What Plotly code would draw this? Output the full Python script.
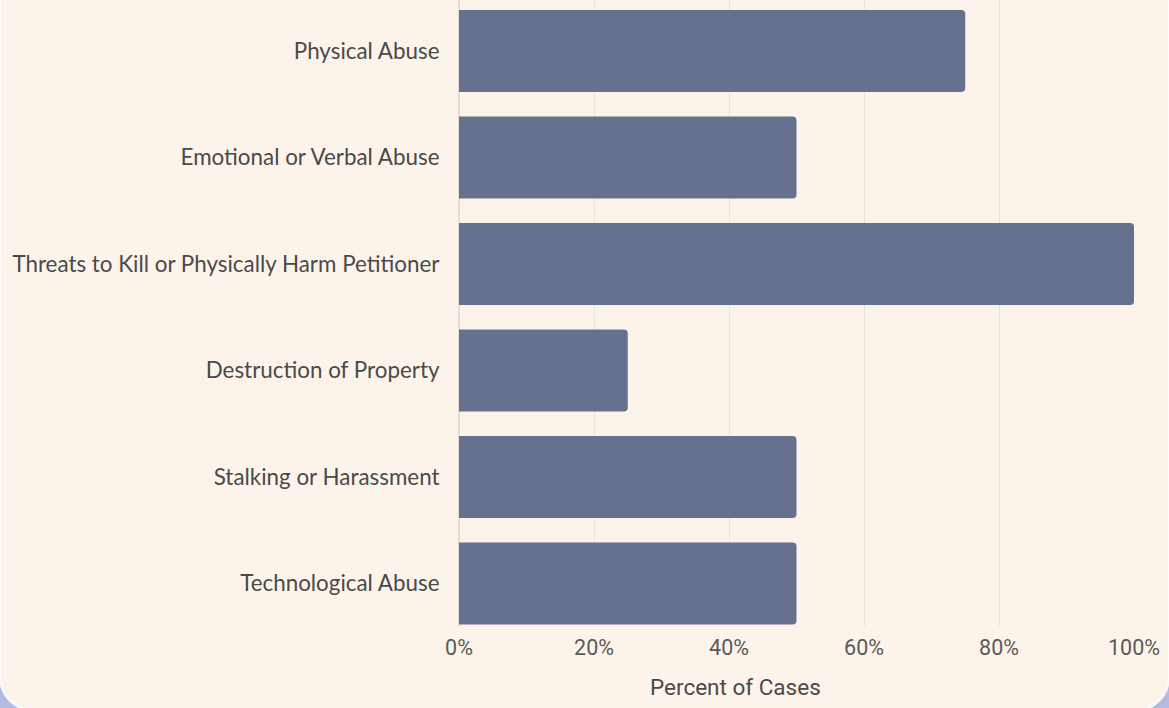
import plotly.graph_objects as go

categories = [
    "Physical Abuse",
    "Emotional or Verbal Abuse",
    "Threats to Kill or Physically Harm Petitioner",
    "Destruction of Property",
    "Stalking or Harassment",
    "Technological Abuse",
]
percent_of_cases = [75, 50, 100, 25, 50, 50]
x_tick_values = [0, 20, 40, 60, 80, 100]
x_tick_labels = ["0%", "20%", "40%", "60%", "80%", "100%"]
x_axis_title = "Percent of Cases"

W, H = 1169, 708
ML, MR, MT, MB = 459, 35, 0, 82
PW, PH = W - ML - MR, H - MT - MB

CREAM = "#fcf4eb"
LAV = "#b3bbe0"
BAR = "#66718f"

def px(x):
    return (x - ML) / PW

def py(y):
    return (H - MB - y) / PH

fig = go.Figure(
    go.Bar(
        x=percent_of_cases,
        y=categories,
        orientation="h",
        marker=dict(color=BAR, cornerradius=4, line=dict(width=0)),
        hoverinfo="x+y",
    )
)

# rounded card with lavender corners
r = 34
k = 0.5523 * r
top = -20
bot = 677 + r
lx, rx = 0, W
path = (
    f"M {px(lx)},{py(top)} "
    f"L {px(lx)},{py(bot - r)} "
    f"C {px(lx)},{py(bot - r + k)} {px(lx + r - k)},{py(bot)} {px(lx + r)},{py(bot)} "
    f"L {px(rx - r)},{py(bot)} "
    f"C {px(rx - r + k)},{py(bot)} {px(rx)},{py(bot - r + k)} {px(rx)},{py(bot - r)} "
    f"L {px(rx)},{py(top)} Z"
)
fig.add_shape(
    type="path",
    path=path,
    xref="paper",
    yref="paper",
    fillcolor=CREAM,
    line=dict(color="rgba(255,255,255,0.8)", width=2),
    layer="below",
)

fig.add_annotation(
    text=x_axis_title,
    xref="paper",
    yref="paper",
    x=px(735),
    y=py(687),
    xanchor="center",
    yanchor="middle",
    showarrow=False,
    font=dict(family="Roboto", size=22.5, color="#4a4a4a"),
)

fig.update_layout(
    width=W,
    height=H,
    margin=dict(l=ML, r=MR, t=MT, b=MB, pad=0),
    paper_bgcolor=LAV,
    plot_bgcolor="rgba(0,0,0,0)",
    bargap=0.23,
    showlegend=False,
    font=dict(family="Roboto", color="#555555"),
)
fig.update_xaxes(
    range=[0, 100],
    tickvals=x_tick_values,
    ticktext=x_tick_labels,
    tickfont=dict(family="Roboto", size=21.5, color="#5a5a5a"),
    ticks="outside",
    ticklen=2,
    tickcolor="rgba(0,0,0,0)",
    showgrid=True,
    gridcolor="#ebe4da",
    gridwidth=1,
    zeroline=True,
    zerolinecolor="#e4ddd2",
    showline=False,
    fixedrange=True,
)
fig.update_yaxes(
    categoryorder="array",
    categoryarray=categories,
    range=[5.399, -0.479],
    tickfont=dict(family="Lato", size=22.4, color="#4a4a4a"),
    ticks="outside",
    ticklen=14,
    tickcolor="rgba(0,0,0,0)",
    showgrid=False,
    showline=False,
    fixedrange=True,
)

fig.write_html(
    "out.html",
    config={"displayModeBar": False},
    post_script="document.body.style.margin='0';document.body.style.overflow='hidden';",
)
